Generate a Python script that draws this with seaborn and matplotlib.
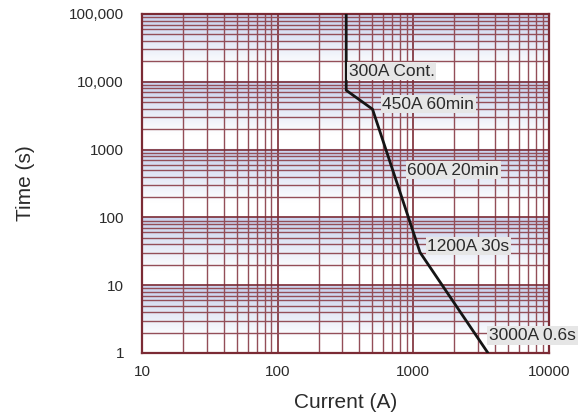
import numpy as np
import seaborn as sns
import matplotlib.pyplot as plt
from matplotlib.ticker import LogLocator, FixedLocator, FixedFormatter, NullFormatter

# Trip curve (current in A, time in s)
current = [320, 320, 500, 1120, 3550]
time_s = [100000, 7500, 3950, 30.5, 1]

# Annotations: text, left edge current, centre time
label_text = ["300A Cont.", "450A 60min", "600A 20min", "1200A 30s", "3000A 0.6s"]
label_x = [333, 592, 903, 1268, 3620]
label_y = [14400, 4690, 497, 37.8, 1.81]

x_ticks = [10, 100, 1000, 10000]
x_ticklabels = ["10", "100", "1000", "10000"]
y_ticks = [1, 10, 100, 1000, 10000, 100000]
y_ticklabels = ["1", "10", "100", "1000", "10,000", "100,000"]

sns.set_theme(style="white")
plt.rcParams['font.family'] = ['Liberation Sans', 'DejaVu Sans']

major_c = "#7b2b35"
minor_c = "#934e58"
text_c = "#2b2b2b"

fig = plt.figure(figsize=(5.85, 4.19), dpi=100)
ax = fig.add_axes([142 / 585, 1 - 353 / 419, 407 / 585, 339 / 419])

ax.set_xscale("log")
ax.set_yscale("log")
ax.set_xlim(10, 10000)
ax.set_ylim(1, 100000)

# blue gradient at the top of each decade
n = 500
frac = (np.linspace(0, 5, n) % 1.0)
t = np.clip((frac - 0.22) / 0.68, 0, 1)[:, None]
blue = np.array([0.80, 0.835, 0.935])
img = (1 - t)[..., None] * np.ones(3) + t[..., None] * blue
ax.imshow(img, extent=(0, 1, 0, 1), transform=ax.transAxes, aspect="auto",
          origin="lower", zorder=0, interpolation="bilinear")

ax.xaxis.set_minor_locator(LogLocator(base=10, subs=np.arange(2, 10)))
ax.yaxis.set_minor_locator(LogLocator(base=10, subs=np.arange(2, 10)))
ax.xaxis.set_minor_formatter(NullFormatter())
ax.yaxis.set_minor_formatter(NullFormatter())
ax.grid(which="minor", color=minor_c, lw=1.0, zorder=1)
ax.grid(which="major", color=major_c, lw=1.2, zorder=1)
ax.set_axisbelow(True)

sns.lineplot(x=current, y=time_s, sort=False, estimator=None, color="#151515",
             lw=2.0, ax=ax, zorder=3)

for txt, lx, ly in zip(label_text, label_x, label_y):
    ax.text(lx, ly, txt, ha="left", va="center", fontsize=12.5, color=text_c,
            zorder=4, bbox=dict(boxstyle="square,pad=0.1", fc="#e6e6e6", ec="none"))

ax.xaxis.set_major_locator(FixedLocator(x_ticks))
ax.xaxis.set_major_formatter(FixedFormatter(x_ticklabels))
ax.yaxis.set_major_locator(FixedLocator(y_ticks))
ax.yaxis.set_major_formatter(FixedFormatter(y_ticklabels))
ax.tick_params(axis="both", which="both", length=0, labelsize=11, labelcolor=text_c)
ax.tick_params(axis="x", pad=9)
ax.tick_params(axis="y", pad=13)

for s in ax.spines.values():
    s.set_visible(True)
    s.set_color(major_c)
    s.set_linewidth(1.6)

ax.set_xlabel("Current (A)", fontsize=15, color=text_c, labelpad=10)
ax.set_ylabel("Time (s)", fontsize=15, color=text_c, labelpad=24)

fig.savefig("out.png", dpi=100)
